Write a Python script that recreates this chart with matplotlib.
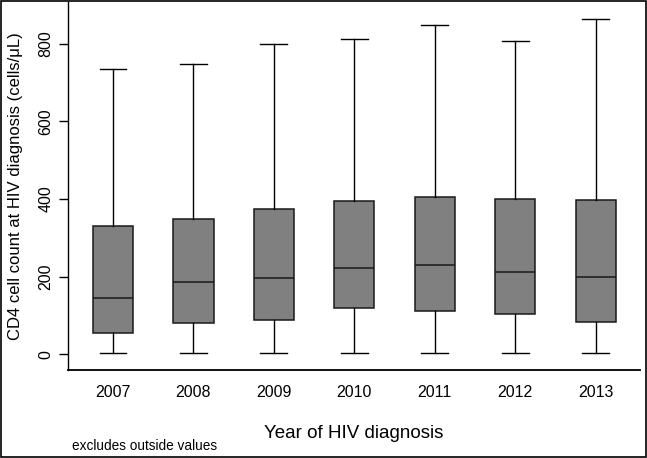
import matplotlib
matplotlib.use('Agg')
import matplotlib.pyplot as plt
from matplotlib.patches import Rectangle

plt.rcParams['font.family'] = ['Liberation Sans', 'DejaVu Sans']

# data (cells/uL)
years = ['2007', '2008', '2009', '2010', '2011', '2012', '2013']
whisk_lo = [4, 4, 3, 2, 3, 2, 3]
q1 = [54, 81, 89, 120, 110, 103, 82]
median = [146, 186, 196, 221, 230, 213, 200]
q3 = [331, 348, 374, 395, 405, 400, 397]
whisk_hi = [736, 749, 800, 812, 849, 808, 864]

stats = []
for i in range(len(years)):
    stats.append({'label': years[i], 'whislo': whisk_lo[i], 'q1': q1[i],
                  'med': median[i], 'q3': q3[i], 'whishi': whisk_hi[i]})

fig = plt.figure(figsize=(6.47, 4.58), dpi=100)
ax = fig.add_axes([0.105, 0.192, 0.884, 0.804])

ax.bxp(stats, positions=range(len(years)), widths=0.5, showfliers=False,
       patch_artist=True,
       boxprops=dict(facecolor='#808080', edgecolor='#1a1a1a', linewidth=1.1),
       medianprops=dict(color='#1a1a1a', linewidth=1.1),
       whiskerprops=dict(color='black', linewidth=1.0),
       capprops=dict(color='black', linewidth=1.0),
       capwidths=0.335)

ax.set_xlim(-0.56, len(years) - 0.45)
ax.set_ylim(-41, 908)
ax.set_yticks([0, 200, 400, 600, 800])
ax.tick_params(axis='y', direction='out', length=6.5, width=1.0, labelsize=11.5,
               labelrotation=90, pad=4)
ax.tick_params(axis='x', length=0, labelsize=11.5, pad=11)
for lab in ax.get_yticklabels():
    lab.set_va('center')

ax.spines['top'].set_visible(False)
ax.spines['right'].set_visible(False)
ax.spines['left'].set_linewidth(1.0)
ax.spines['bottom'].set_linewidth(1.3)

ax.set_ylabel('CD4 cell count at HIV diagnosis (cells/\u03bcL)', fontsize=12, labelpad=11)
ax.set_xlabel('Year of HIV diagnosis', fontsize=13.5, labelpad=18)

fig.text(0.111, 0.026, 'excludes outside values', fontsize=9.8, va='center')

# thin black frame around the whole picture
fig.patches.append(Rectangle((0.001, 0.002), 0.997, 0.996, transform=fig.transFigure,
                             fill=False, edgecolor='black', linewidth=1.2))

fig.savefig('out.png', dpi=100)
